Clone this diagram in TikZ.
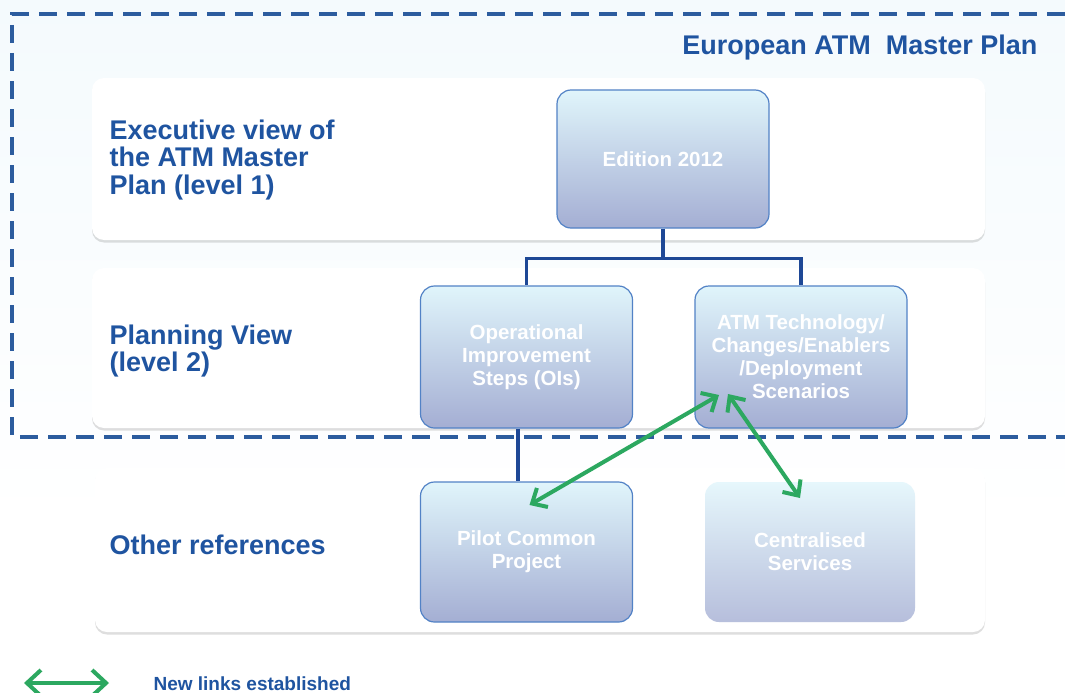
\documentclass[tikz,border=0pt]{standalone}
\usepackage{fontspec}
\setmainfont{Liberation Sans}
\usetikzlibrary{arrows.meta,shadows}

\definecolor{atmblue}{RGB}{31,84,160}
\definecolor{dashblue}{RGB}{44,92,158}
\definecolor{connblue}{RGB}{30,72,150}
\definecolor{linkgreen}{RGB}{44,168,96}
\definecolor{boxtop}{RGB}{224,245,251}
\definecolor{boxmid}{RGB}{198,223,243}
\definecolor{boxbot}{RGB}{164,174,211}
\definecolor{boxedge}{RGB}{82,130,198}
\definecolor{bgtint}{RGB}{244,250,253}

\tikzset{
  panel/.style={fill=white, rounded corners=12pt, inner sep=0pt,
    drop shadow={shadow xshift=0pt, shadow yshift=-2.5pt, opacity=.18, fill=black!70}},
  planbox/.style={draw=boxedge, line width=1.2pt, rounded corners=14pt,
    top color=boxtop, middle color=boxmid, bottom color=boxbot,
    minimum width=212pt, minimum height=140pt, align=center, text=white,
    font=\fontsize{20.5}{23}\selectfont\bfseries},
  softbox/.style={planbox, draw=none, top color=boxtop!80!white,
    middle color=boxmid!85!white, bottom color=boxbot!80!white},
  levellabel/.style={anchor=west, align=left, text=atmblue,
    font=\fontsize{27}{27.5}\selectfont\bfseries},
  conn/.style={draw=connblue, line width=3.5pt},
  link/.style={draw=linkgreen, line width=4pt,
    {Straight Barb[length=12pt,width=22pt]}-{Straight Barb[length=12pt,width=22pt]}},
  legendlink/.style={link,
    {Straight Barb[length=14pt,width=26pt]}-{Straight Barb[length=14pt,width=26pt]}},
  frame/.style={draw=dashblue, line width=3.5pt, dash pattern=on 18pt off 10pt}
}

\begin{document}
\begin{tikzpicture}[x=1pt,y=-1pt]
  \useasboundingbox (0,0) rectangle (1065,693);
  \fill[white] (0,0) rectangle (1065,693);
  \shade[top color=bgtint, bottom color=white] (0,0) rectangle (1065,520);

  % white level panels
  \node[panel, minimum width=893pt, minimum height=162pt] (p1) at (538.5,159) {};
  \node[panel, minimum width=893pt, minimum height=160pt] (p2) at (538.5,348) {};
  \node[panel, minimum width=890pt, minimum height=164pt] (p3) at (540,550) {};

  % dashed outline of the Master Plan scope
  \draw[frame] (1065,14) -- (12,14) -- (12,437) -- (1065,437);

  \node[anchor=east, text=atmblue, font=\fontsize{27}{30}\selectfont\bfseries]
    (title) at (1041,48) {European ATM\ \ Master Plan};

  % level labels
  \node[levellabel] (l1) at (106,160) {Executive view of\\the ATM Master\\Plan (level 1)};
  \node[levellabel] (l2) at (106,351) {Planning View\\(level 2)};
  \node[levellabel] (l3) at (106,545) {Other references};

  % plan elements
  \node[planbox, minimum height=138pt] (ed) at (663,159) {Edition 2012};
  \node[planbox, minimum height=142pt] (ois) at (526.5,357) {Operational\\Improvement\\Steps (OIs)};
  \node[planbox, minimum height=142pt] (atm) at (801,357) {ATM Technology/\\Changes/Enablers\\/Deployment\\Scenarios};
  \node[planbox] (pcp) at (526.5,552) {Pilot Common\\Project};
  \node[softbox, minimum width=210pt] (cs) at (810,552) {Centralised\\Services};

  % hierarchy
  \draw[conn] (ed.south) -- ++(0,30) -| (ois.north);
  \draw[conn] (ed.south) ++(0,30) -| (atm.north);
  \draw[conn] ([xshift=-8.5pt]ois.south) -- ([xshift=-8.5pt]pcp.north);

  % new links
  \draw[link] ([xshift=3pt,yshift=47pt]pcp.center) -- ([xshift=-82pt,yshift=-38pt]atm.center);
  \draw[link] ([xshift=-73pt,yshift=-37pt]atm.center) -- ([xshift=-10pt,yshift=54pt]cs.center);

  % legend
  \coordinate (legA) at (24,683);
  \coordinate (legB) at (109,683);
  \draw[legendlink] (legA) -- (legB);
  \node[anchor=west, text=atmblue, font=\fontsize{19}{22}\selectfont\bfseries]
    (legtext) at (150,684) {New links established};
\end{tikzpicture}
\end{document}
